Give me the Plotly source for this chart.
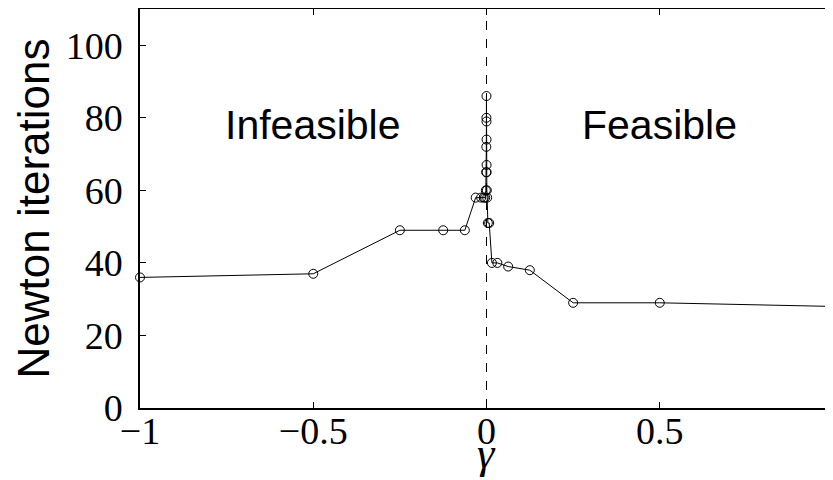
import plotly.graph_objects as go

# gamma values (powers of two on both sides of zero) and Newton iteration counts
gamma_neg = [-1, -0.5, -0.25, -0.125, -0.0625, -0.03125, -0.015625, -0.0078125,
             -0.00390625, -0.001953125, -0.0009765625, -0.00048828125, -0.000244140625,
             -0.0001220703125]
iters_neg = [36, 37, 49, 49, 49, 58, 58, 58, 58, 60, 65, 72, 80, 86]

gamma_pos = [0.00006103515625, 0.0001220703125, 0.000244140625, 0.00048828125,
             0.0009765625, 0.001953125, 0.00390625, 0.0078125, 0.015625, 0.03125,
             0.0625, 0.125, 0.25, 0.5, 1]
iters_pos = [79, 74, 67, 65, 60, 58, 51, 51, 40, 40, 39, 38, 29, 29, 28]

x_ticks = [-1, -0.5, 0, 0.5, 1]
x_tick_text = ["\u22121", "\u22120.5", "0", "0.5", "1"]
y_ticks = [0, 20, 40, 60, 80, 100]

region_labels = ["Infeasible", "Feasible"]
region_x = [-0.5, 0.5]
region_y = [78, 78]

gamma = gamma_neg + gamma_pos
iters = iters_neg + iters_pos

serif = "Liberation Serif, DejaVu Serif, serif"
sans = "Liberation Sans, Arial, sans-serif"

fig = go.Figure()
fig.add_trace(go.Scatter(
    x=[0, 0], y=[0, 110], mode="lines",
    line=dict(color="black", width=1, dash="dash"),
    hoverinfo="skip", showlegend=False))
fig.add_trace(go.Scatter(
    x=gamma, y=iters, mode="lines+markers",
    line=dict(color="black", width=1),
    marker=dict(symbol="circle-open", size=9, color="black", line=dict(width=1)),
    showlegend=False, cliponaxis=False))

for t, xx, yy in zip(region_labels, region_x, region_y):
    fig.add_annotation(x=xx, y=yy, text=t, showarrow=False,
                       font=dict(family=sans, size=41, color="black"),
                       xanchor="center", yanchor="middle")

fig.add_annotation(xref="paper", yref="paper", x=-0.1544, y=0.5,
                   text="Newton iterations", textangle=-90, showarrow=False,
                   font=dict(family=sans, size=44, color="black"),
                   xanchor="center", yanchor="middle")
fig.add_annotation(x=0, xref="x", yref="paper", y=-0.113,
                   text="<i>\u03b3</i>", showarrow=False,
                   font=dict(family=serif, size=44, color="black"),
                   xanchor="center", yanchor="middle")

# page body has an 8px default margin, so the figure is sized to fit the window
fig.update_layout(
    width=825, height=472,
    margin=dict(l=132, r=0, t=1, b=72),
    paper_bgcolor="white", plot_bgcolor="white",
    showlegend=False,
)
fig.update_xaxes(
    range=[-1, 1], tickvals=x_ticks, ticktext=x_tick_text,
    ticks="inside", ticklen=6, tickcolor="black", tickwidth=1,
    showline=True, linecolor="black", linewidth=1.5, mirror="ticks",
    showgrid=False, zeroline=False, automargin=False,
    ticklabelstandoff=-11,
    tickfont=dict(family=serif, size=38, color="black"),
)
fig.update_yaxes(
    range=[0, 110], tickvals=y_ticks,
    ticks="inside", ticklen=6, tickcolor="black", tickwidth=1,
    showline=True, linecolor="black", linewidth=1.5, mirror="ticks",
    showgrid=False, zeroline=False, automargin=False,
    ticklabelstandoff=8,
    tickfont=dict(family=serif, size=38, color="black"),
)

fig.write_html("out.html")
